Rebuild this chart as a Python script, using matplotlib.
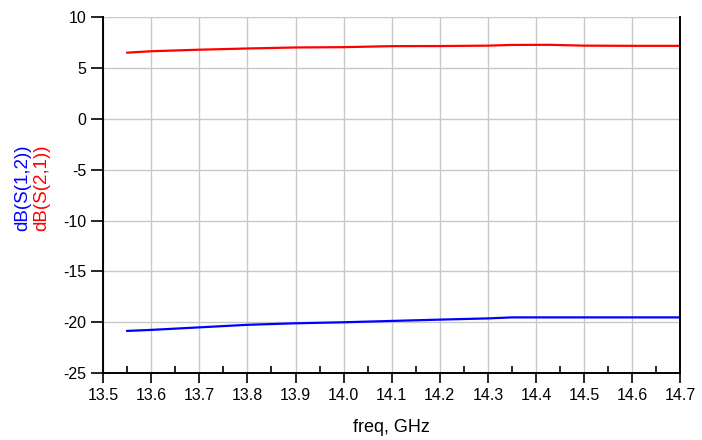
import matplotlib
matplotlib.use("Agg")
import matplotlib.pyplot as plt
from matplotlib.ticker import MultipleLocator

plt.rcParams["font.family"] = ["Liberation Sans", "DejaVu Sans"]
plt.rcParams["axes.unicode_minus"] = False

# S(2,1) in dB
freq_s21 = [13.55, 13.6, 13.7, 13.8, 13.9, 14.0, 14.1, 14.2, 14.3, 14.35, 14.43, 14.5, 14.6, 14.7]
s21_db = [6.51, 6.65, 6.8, 6.92, 7.02, 7.05, 7.15, 7.16, 7.2, 7.27, 7.28, 7.2, 7.18, 7.18]

# S(1,2) in dB
freq_s12 = [13.55, 13.6, 13.7, 13.8, 13.9, 14.0, 14.1, 14.2, 14.3, 14.35, 14.4, 14.5, 14.6, 14.7]
s12_db = [-20.85, -20.75, -20.5, -20.25, -20.1, -20.0, -19.87, -19.74, -19.62, -19.52, -19.52, -19.52, -19.52, -19.52]

x_ticks = [13.5, 13.6, 13.7, 13.8, 13.9, 14.0, 14.1, 14.2, 14.3, 14.4, 14.5, 14.6, 14.7]
y_ticks = [-25, -20, -15, -10, -5, 0, 5, 10]

fig = plt.figure(figsize=(7.02, 4.4), dpi=100)
ax = fig.add_axes([0.147, 0.152, 0.822, 0.809])

ax.plot(freq_s21, s21_db, color="#ff0000", lw=1.6)
ax.plot(freq_s12, s12_db, color="#0000ff", lw=1.6)

ax.set_xlim(13.5, 14.7)
ax.set_ylim(-25, 10)
ax.set_xticks(x_ticks)
ax.set_xticklabels([f"{v:.1f}" for v in x_ticks])
ax.set_yticks(y_ticks)
ax.xaxis.set_minor_locator(MultipleLocator(0.05))

ax.grid(True, which="major", color="#c8c8c8", lw=1)
ax.set_axisbelow(True)

ax.tick_params(axis="x", which="major", direction="out", length=7, width=1.2, labelsize=11.5, pad=4)
ax.tick_params(axis="x", which="minor", direction="in", length=5, width=1.2)
ax.tick_params(axis="y", which="major", direction="out", length=9, width=1.2, labelsize=11.5, pad=3)

ax.spines["top"].set_visible(False)
for side in ("left", "bottom", "right"):
    ax.spines[side].set_linewidth(1.4)

ax.set_xlabel("freq, GHz", fontsize=13, labelpad=11)

fig.text(0.032, 0.573, "dB(S(1,2))", color="#0000ff", fontsize=13.5,
         rotation=90, ha="center", va="center")
fig.text(0.059, 0.573, "dB(S(2,1))", color="#ff0000", fontsize=13.5,
         rotation=90, ha="center", va="center")

fig.savefig("out.png", dpi=100)
